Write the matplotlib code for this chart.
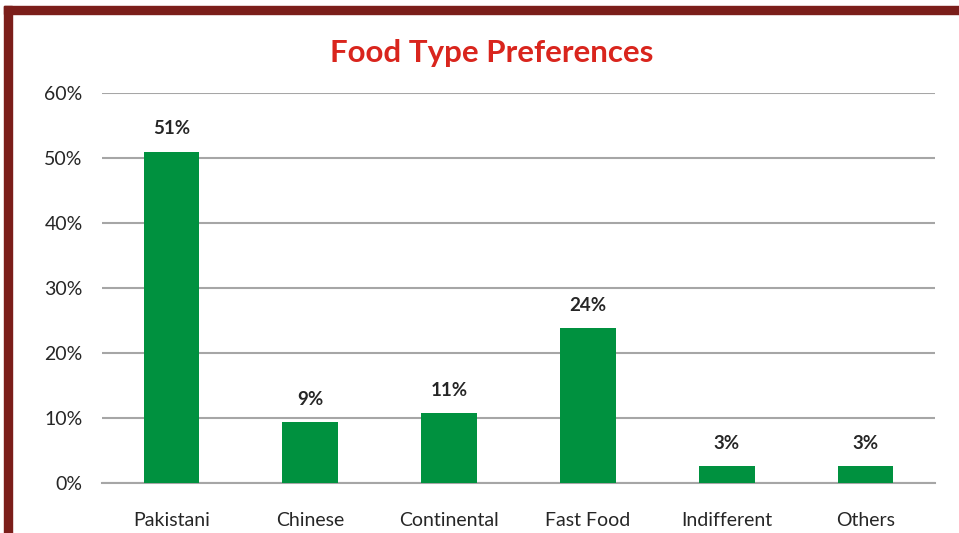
import matplotlib
matplotlib.use("Agg")
import matplotlib.pyplot as plt
from matplotlib.patches import Rectangle
from matplotlib.ticker import FuncFormatter

categories = ["Pakistani", "Chinese", "Continental", "Fast Food", "Indifferent", "Others"]
shares = [51.0, 9.4, 10.8, 23.8, 2.6, 2.6]
y_ticks = [0, 10, 20, 30, 40, 50, 60]

plt.rcParams["font.family"] = ["Lato", "DejaVu Sans"]

BAR = "#00913f"
GRID = "#a6a6a6"
TEXT = "#262626"
FRAME = "#7b1e1a"
TITLE = "#d9251d"

fig = plt.figure(figsize=(9.59, 5.33), dpi=100)
fig.patch.set_facecolor("white")

# decorative frame along the top and left edges
W, H = 959, 533
fig.patches.append(Rectangle((4 / W, 1 - 14 / H), 1 - 4 / W, 8 / H,
                             transform=fig.transFigure, color=FRAME, zorder=0))
fig.patches.append(Rectangle((4 / W, 0), 8 / W, 1 - 6 / H,
                             transform=fig.transFigure, color=FRAME, zorder=0))

ax = fig.add_axes([102 / W, 50 / H, 833 / W, 390 / H])
x = range(len(categories))
bars = ax.bar(x, shares, width=0.4, color=BAR, zorder=3)

for xi, v in zip(x, shares):
    ax.text(xi, v + 2.2, f"{round(v):d}%", ha="center", va="bottom",
            fontsize=13.5, fontweight="bold", color=TEXT)

ax.set_xlim(-0.5, len(categories) - 0.5)
ax.set_ylim(0, 60)
ax.set_yticks(y_ticks)
ax.yaxis.set_major_formatter(FuncFormatter(lambda v, p: f"{v:.0f}%"))
ax.set_xticks(list(x))
ax.set_xticklabels(categories)

ax.grid(axis="y", color=GRID, linewidth=1.5, zorder=0)
for s in ["top", "right", "left"]:
    ax.spines[s].set_visible(False)
ax.spines["bottom"].set_color(GRID)
ax.spines["bottom"].set_linewidth(1.5)
ax.tick_params(axis="both", length=0, labelsize=14, colors=TEXT)
ax.tick_params(axis="y", pad=14)
ax.tick_params(axis="x", pad=21)

fig.text(492 / W, 1 - 53 / H, "Food Type Preferences", ha="center", va="center",
         fontsize=22.5, fontweight="bold", color=TITLE)

fig.savefig("out.png", dpi=100, facecolor="white")
